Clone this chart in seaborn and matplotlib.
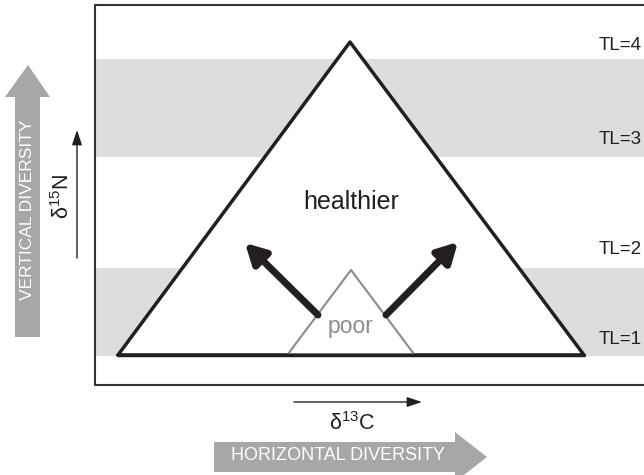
import matplotlib
matplotlib.use("Agg")
import matplotlib.pyplot as plt
import seaborn as sns
import pandas as pd
from matplotlib.patches import Polygon, Rectangle

# trophic levels and their labels
tl_levels = [1, 2, 3, 4]
tl_labels = ["TL=1", "TL=2", "TL=3", "TL=4"]
# shaded bands (pairs of trophic levels)
shaded_bands = [(1, 2), (3, 4)]
# diagram labels
big_label = "healthier"
small_label = "poor"
x_label = r"δ$^{\mathregular{13}}$C"
y_label = r"δ$^{\mathregular{15}}$N"
x_arrow_label = "HORIZONTAL DIVERSITY"
y_arrow_label = "VERTICAL DIVERSITY"

sns.set_style("white")
plt.rcParams['font.family'] = ['Liberation Sans', 'DejaVu Sans']

fig = plt.figure(figsize=(6.44, 4.75), dpi=100)
ax = fig.add_axes([0, 0, 1, 1])

ink = "#231f20"
band_col = "#dcdddf"
arrow_gray = "#a6a7a9"
poor_gray = "#8c8c8c"

# pixel rows of the band edges
band_edges = {(1, 2): (268, 356), (3, 4): (59, 157)}
for band in shaded_bands:
    y0, y1 = band_edges[band]
    ax.add_patch(Rectangle((96, y0), 560, y1 - y0, color=band_col, lw=0, zorder=1))

# frame (open to the right)
ax.plot([95, 650], [5, 5], color="#333333", lw=1.5, zorder=2)
ax.plot([95, 650], [385, 385], color="#333333", lw=1.5, zorder=2)
ax.plot([95, 95], [5, 385], color="#333333", lw=1.5, zorder=2)

# big triangle
big = pd.DataFrame({"x": [118, 350, 584, 118], "y": [355, 42, 355, 355]})
ax.add_patch(Polygon(big[["x", "y"]].values, closed=True, facecolor="white",
                     edgecolor="none", zorder=3))
sns.lineplot(data=big, x="x", y="y", sort=False, estimator=None, color=ink,
             lw=2.5, ax=ax, zorder=4)

# small triangle
small = pd.DataFrame({"x": [288, 351, 414, 288], "y": [354, 270, 354, 354]})
ax.add_patch(Polygon(small[["x", "y"]].values, closed=True, facecolor="white",
                     edgecolor="none", zorder=5))
sns.lineplot(data=small, x="x", y="y", sort=False, estimator=None,
             color=poor_gray, lw=1.5, ax=ax, zorder=6)
# redraw the shared base in black
ax.plot([118, 584], [355, 355], color=ink, lw=2.5, zorder=7)

# thick arrows out of the small triangle
arrow_style = dict(arrowstyle="-|>,head_length=1.2,head_width=0.65", lw=5,
                   color=ink, shrinkA=0, shrinkB=0)
ax.annotate("", xy=(245, 243), xytext=(318, 315), arrowprops=arrow_style, zorder=7)
ax.annotate("", xy=(458, 242), xytext=(386, 315), arrowprops=arrow_style, zorder=7)

ax.text(351, 202, big_label, ha="center", va="center", fontsize=18, color=ink, zorder=8)
ax.text(351, 327, small_label, ha="center", va="center", fontsize=16.5,
        color=poor_gray, zorder=8)

# TL labels
tl_text_y = [339, 250, 140, 46]
for lab, ty in zip(tl_labels, tl_text_y):
    ax.text(642, ty, lab, ha="right", va="center", fontsize=13.5, color=ink, zorder=8)

# axis arrows
thin_style = dict(arrowstyle="-|>,head_length=0.9,head_width=0.3", lw=1,
                  color=ink, shrinkA=0, shrinkB=0)
ax.annotate("", xy=(422, 402), xytext=(294, 402), arrowprops=thin_style)
ax.text(352, 424, x_label, ha="center", va="center", fontsize=15.5, color=ink)
ax.annotate("", xy=(77, 130), xytext=(77, 258), arrowprops=thin_style)
ax.text(63, 196, y_label, ha="center", va="center", fontsize=15.5, color=ink, rotation=90)

# big gray diversity arrows
ax.add_patch(Polygon([(214, 442), (455, 442), (455, 432), (487, 457), (455, 482),
                      (455, 472), (214, 472)], closed=True, color=arrow_gray, lw=0))
ax.text(338, 456, x_arrow_label, ha="center", va="center", fontsize=13, color="white")
ax.add_patch(Polygon([(15, 337), (15, 97), (5, 97), (28, 65), (50, 97),
                      (40, 97), (40, 337)], closed=True, color=arrow_gray, lw=0))
ax.text(28, 210, y_arrow_label, ha="center", va="center", fontsize=12.5,
        color="white", rotation=90)

ax.set_xlim(0, 644)
ax.set_ylim(475, 0)
ax.axis("off")

fig.savefig("out.png", dpi=100)
